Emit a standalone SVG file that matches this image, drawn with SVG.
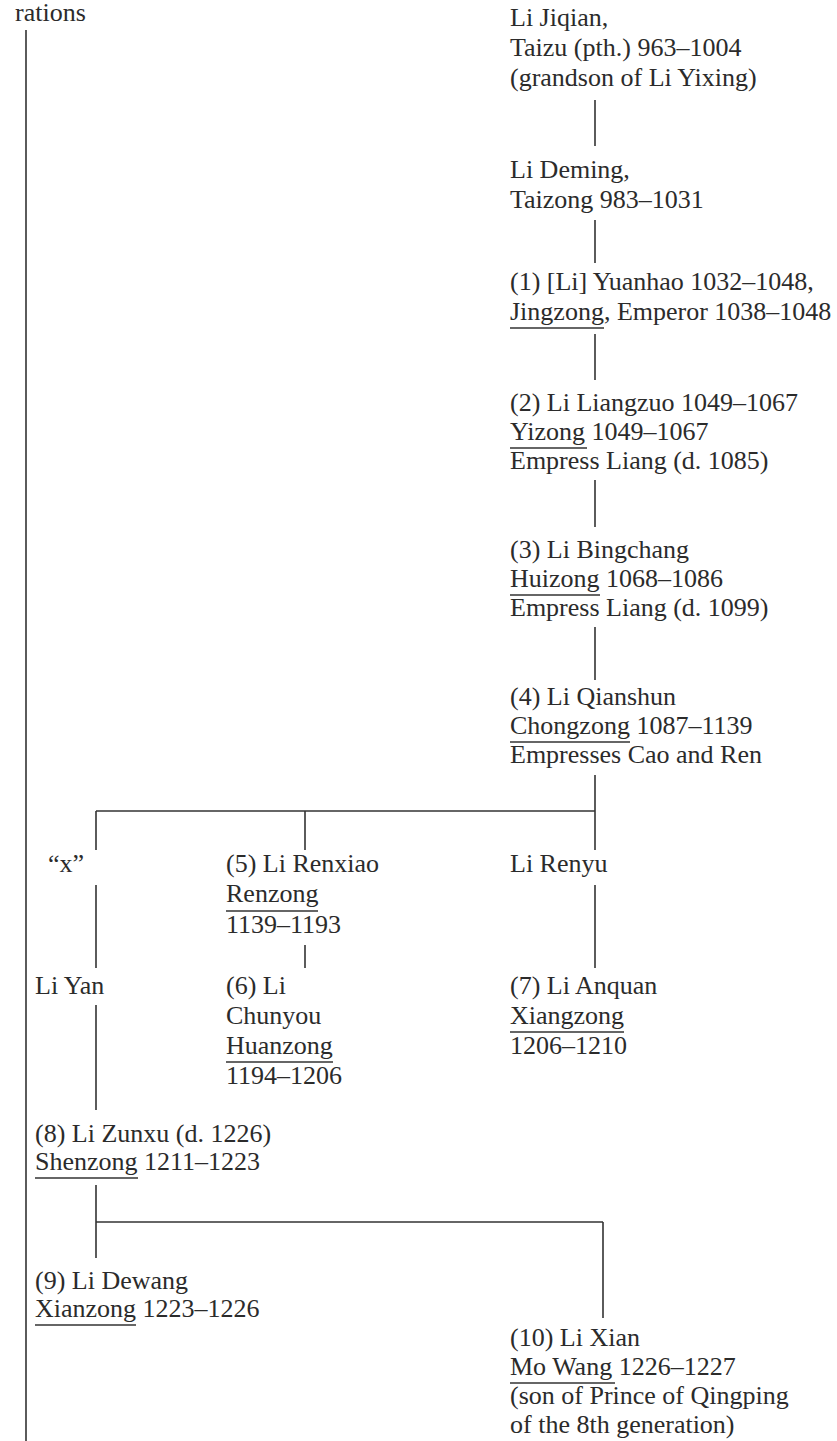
<svg xmlns="http://www.w3.org/2000/svg" width="837" height="1441" viewBox="0 0 837 1441">
<style>
text{font-family:"Liberation Serif","Times New Roman",serif;font-size:26px;fill:#2b2b2b}
.c line,.ul{stroke:#333;stroke-width:1.6}
</style>
<rect width="837" height="1441" fill="#fff"/>
<g id="connectors" class="c">
<line x1="26" y1="30" x2="26" y2="1441"/>
<line x1="595" y1="100" x2="595" y2="146"/>
<line x1="595" y1="220" x2="595" y2="263"/>
<line x1="595" y1="334" x2="595" y2="380"/>
<line x1="595" y1="480" x2="595" y2="527"/>
<line x1="595" y1="627" x2="595" y2="680"/>
<line x1="595" y1="775" x2="595" y2="850"/>
<line x1="96" y1="811" x2="595" y2="811"/>
<line x1="96" y1="811" x2="96" y2="850"/>
<line x1="305" y1="811" x2="305" y2="850"/>
<line x1="96" y1="885" x2="96" y2="968"/>
<line x1="305" y1="945" x2="305" y2="968"/>
<line x1="595" y1="885" x2="595" y2="968"/>
<line x1="96" y1="1005" x2="96" y2="1110"/>
<line x1="96" y1="1185" x2="96" y2="1258"/>
<line x1="96" y1="1222" x2="603" y2="1222"/>
<line x1="603" y1="1222" x2="603" y2="1318"/>
</g>
<g id="header"><text x="15" y="21">rations</text></g>
<g id="li-jiqian">
<text x="510" y="26">Li Jiqian,</text>
<text x="510" y="56">Taizu (pth.) 963–1004</text>
<text x="510" y="86">(grandson of Li Yixing)</text>
</g>
<g id="li-deming">
<text x="510" y="178">Li Deming,</text>
<text x="510" y="208">Taizong 983–1031</text>
</g>
<g id="n1-yuanhao">
<text x="510" y="290">(1) [Li] Yuanhao 1032–1048,</text>
<text x="510" y="320">Jingzong, Emperor 1038–1048</text>
<line class="ul" x1="510" y1="328" x2="604" y2="328"/>
</g>
<g id="n2-liangzuo">
<text x="510" y="411">(2) Li Liangzuo 1049–1067</text>
<text x="510" y="440">Yizong 1049–1067</text>
<line class="ul" x1="510" y1="448" x2="587" y2="448"/>
<text x="510" y="469">Empress Liang (d. 1085)</text>
</g>
<g id="n3-bingchang">
<text x="510" y="558">(3) Li Bingchang</text>
<text x="510" y="587">Huizong 1068–1086</text>
<line class="ul" x1="510" y1="595" x2="600" y2="595"/>
<text x="510" y="616">Empress Liang (d. 1099)</text>
</g>
<g id="n4-qianshun">
<text x="510" y="705">(4) Li Qianshun</text>
<text x="510" y="734">Chongzong 1087–1139</text>
<line class="ul" x1="510" y1="742" x2="630" y2="742"/>
<text x="510" y="763">Empresses Cao and Ren</text>
</g>
<g id="x"><text x="48" y="872">“x”</text></g>
<g id="n5-renxiao">
<text x="226" y="872">(5) Li Renxiao</text>
<text x="226" y="902">Renzong</text>
<line class="ul" x1="226" y1="911" x2="318" y2="911"/>
<text x="226" y="933">1139–1193</text>
</g>
<g id="li-renyu"><text x="510" y="872">Li Renyu</text></g>
<g id="li-yan"><text x="35" y="994">Li Yan</text></g>
<g id="n6-chunyou">
<text x="226" y="994">(6) Li</text>
<text x="226" y="1024">Chunyou</text>
<text x="226" y="1054">Huanzong</text>
<line class="ul" x1="226" y1="1062" x2="333" y2="1062"/>
<text x="226" y="1084">1194–1206</text>
</g>
<g id="n7-anquan">
<text x="510" y="994">(7) Li Anquan</text>
<text x="510" y="1024">Xiangzong</text>
<line class="ul" x1="510" y1="1032" x2="624" y2="1032"/>
<text x="510" y="1054">1206–1210</text>
</g>
<g id="n8-zunxu">
<text x="35" y="1142">(8) Li Zunxu (d. 1226)</text>
<text x="35" y="1170">Shenzong 1211–1223</text>
<line class="ul" x1="35" y1="1178" x2="138" y2="1178"/>
</g>
<g id="n9-dewang">
<text x="35" y="1289">(9) Li Dewang</text>
<text x="35" y="1317">Xianzong 1223–1226</text>
<line class="ul" x1="35" y1="1325" x2="136" y2="1325"/>
</g>
<g id="n10-xian">
<text x="510" y="1346">(10) Li Xian</text>
<text x="510" y="1375">Mo Wang 1226–1227</text>
<line class="ul" x1="510" y1="1383" x2="615" y2="1383"/>
<text x="510" y="1404">(son of Prince of Qingping</text>
<text x="510" y="1433">of the 8th generation)</text>
</g>
</svg>
